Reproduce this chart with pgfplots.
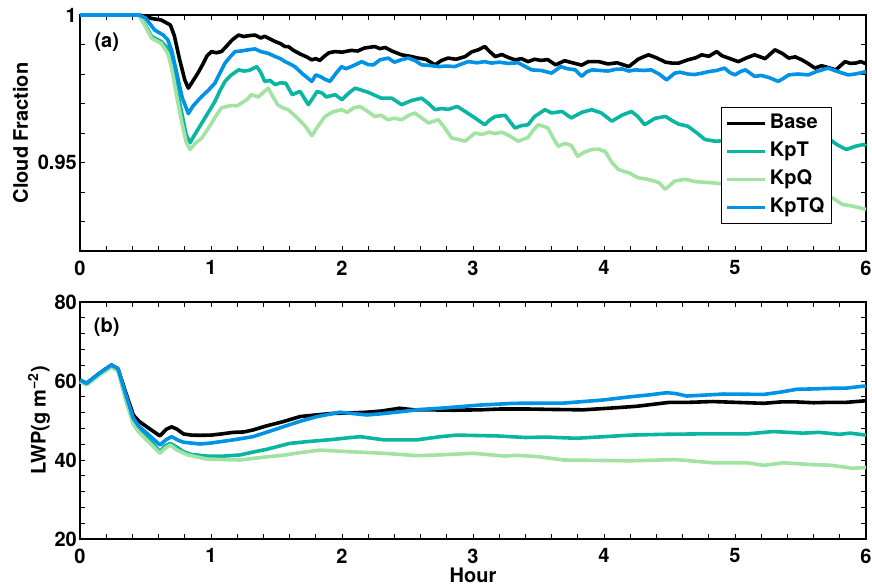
\documentclass[border=0pt]{standalone}
\usepackage{pgfplots}
\pgfplotsset{compat=1.18}
\usepackage{fontspec}
\setmainfont{TeX Gyre Heros}
\definecolor{cBase}{RGB}{0,0,0}
\definecolor{cKpT}{RGB}{10,182,162}
\definecolor{cKpQ}{RGB}{162,226,162}
\definecolor{cKpTQ}{RGB}{0,146,228}
\pgfplotsset{
  myaxis/.style={
    scale only axis, width=786pt, height=236pt,
    xmin=0, xmax=6, xtick={0,1,2,3,4,5,6}, minor x tick num=4,
    tick align=inside, major tick length=5pt, minor tick length=5pt,
    every tick/.style={black, line width=0.9pt},
    axis line style={line width=1.2pt},
    /pgf/number format/assume math mode=true,
    xticklabel style={inner sep=0pt, yshift=-9.5pt},
    yticklabel style={inner sep=0pt, xshift=-3pt},
    clip=false,
    every axis plot/.append style={line width=3.6pt, line join=round, no marks},
    legend image code/.code={\draw[#1] (0pt,0pt) -- (38pt,0pt);},
  }
}
\begin{document}
\begin{tikzpicture}[font=\fontsize{20}{24}\selectfont\bfseries]
\begin{axis}[myaxis, at={(0,0)}, anchor=north west,
  ymin=0.92, ymax=1, ytick={0.95,1}, yticklabels={0.95,1},
  minor ytick={0.92,0.93,0.94,0.96,0.97,0.98,0.99},
  ylabel={Cloud Fraction},
  ylabel style={at={(axis description cs:-0.0757,0.5)}, anchor=center, inner sep=0pt},
  legend style={at={(axis description cs:0.9567,0.610)}, anchor=north east,
    draw=black, line width=1.2pt, inner xsep=4pt, inner ysep=2pt,
    font=\fontsize{20}{24}\selectfont\bfseries,
    nodes={text height=14pt, text depth=4pt, inner ysep=5pt, inner xsep=3pt}},
  legend cell align=left,
]
\addplot[cBase] coordinates {
(0,1) (0.45,1) (0.5,0.9995) (0.55,0.9988) (0.62,0.9983) (0.69,0.9966) (0.72,0.993) (0.76,0.985) (0.80,0.978) (0.827,0.9752) (0.86,0.9775) (0.90,0.9803) (0.94,0.9835) (0.97,0.9862) (1.005,0.9876) (1.04,0.9872) (1.08,0.9876) (1.12,0.9895) (1.16,0.9915) (1.21,0.9932) (1.25,0.9927) (1.29,0.9930) (1.336,0.9932) (1.38,0.9922) (1.41,0.9928) (1.44,0.9921) (1.49,0.9910) (1.53,0.9903) (1.565,0.9893) (1.59,0.9893) (1.63,0.9880) (1.68,0.9868) (1.73,0.9858) (1.769,0.9848) (1.80,0.9852) (1.83,0.9846) (1.87,0.9862) (1.90,0.9872) (1.947,0.9876) (2.0,0.9874) (2.07,0.9880) (2.12,0.9878) (2.17,0.9888) (2.25,0.9893) (2.29,0.9886) (2.33,0.9890) (2.38,0.9878) (2.455,0.9865) (2.52,0.9860) (2.58,0.9854) (2.64,0.9850) (2.71,0.9831) (2.76,0.9846) (2.81,0.9854) (2.87,0.9850) (2.94,0.9859) (2.99,0.9875) (3.04,0.9882) (3.09,0.9893) (3.13,0.9875) (3.17,0.9859) (3.22,0.9866) (3.27,0.9856) (3.32,0.9848) (3.37,0.9852) (3.42,0.9842) (3.47,0.9850) (3.52,0.9846) (3.57,0.9849) (3.63,0.9831) (3.70,0.9845) (3.76,0.9838) (3.83,0.9830) (3.88,0.9842) (3.96,0.9842) (4.03,0.9834) (4.10,0.9838) (4.19,0.9825) (4.26,0.9850) (4.30,0.9858) (4.34,0.9865) (4.40,0.9855) (4.47,0.9840) (4.52,0.9837) (4.57,0.9837) (4.64,0.9848) (4.70,0.9855) (4.746,0.9865) (4.80,0.9860) (4.86,0.9876) (4.90,0.9862) (4.95,0.9854) (5.025,0.9842) (5.09,0.9855) (5.15,0.9865) (5.23,0.9852) (5.305,0.9882) (5.36,0.9870) (5.41,0.9854) (5.46,0.9858) (5.51,0.9848) (5.56,0.9835) (5.61,0.9820) (5.66,0.9828) (5.71,0.9822) (5.77,0.9814) (5.84,0.9842) (5.88,0.9836) (5.92,0.9837) (5.96,0.9842) (6.0,0.9835)
};
\addlegendentry{Base}
\addplot[cKpT] coordinates {
(0,1) (0.45,1) (0.50,0.9965) (0.547,0.9927) (0.62,0.9910) (0.67,0.9887) (0.70,0.984) (0.74,0.975) (0.78,0.966) (0.81,0.9595) (0.84,0.9567) (0.87,0.9590) (0.93,0.9634) (0.98,0.9670) (1.03,0.9707) (1.07,0.9745) (1.107,0.9775) (1.15,0.9795) (1.21,0.9814) (1.25,0.9810) (1.29,0.9812) (1.35,0.9825) (1.38,0.9805) (1.41,0.9775) (1.45,0.9778) (1.49,0.9764) (1.53,0.9770) (1.57,0.9769) (1.62,0.9730) (1.68,0.9741) (1.743,0.9696) (1.78,0.9720) (1.81,0.9741) (1.85,0.9735) (1.88,0.9722) (1.947,0.9730) (2.0,0.9713) (2.05,0.9735) (2.10,0.9752) (2.15,0.9745) (2.2,0.9738) (2.25,0.9728) (2.3,0.9718) (2.38,0.9718) (2.455,0.9696) (2.53,0.9710) (2.608,0.9718) (2.66,0.9700) (2.71,0.9679) (2.76,0.9683) (2.81,0.9680) (2.88,0.9690) (2.95,0.9670) (3.015,0.9651) (3.09,0.9628) (3.13,0.9645) (3.17,0.9656) (3.245,0.9660) (3.32,0.9617) (3.37,0.9625) (3.42,0.9628) (3.47,0.9656) (3.55,0.9679) (3.60,0.9668) (3.68,0.9673) (3.75,0.9651) (3.83,0.9670) (3.906,0.9679) (3.98,0.9668) (4.06,0.9640) (4.14,0.9661) (4.21,0.9673) (4.26,0.9655) (4.31,0.9628) (4.39,0.9650) (4.47,0.9656) (4.52,0.9642) (4.57,0.9630) (4.64,0.9623) (4.71,0.9600) (4.77,0.9578) (4.85,0.9572) (4.95,0.9575) (5.1,0.9580) (5.3,0.9578) (5.5,0.9580) (5.65,0.9575) (5.725,0.9578) (5.78,0.9560) (5.85,0.9544) (5.92,0.9555) (5.98,0.9561) (6.0,0.9556)
};
\addlegendentry{KpT}
\addplot[cKpQ] coordinates {
(0,1) (0.45,1) (0.50,0.9960) (0.547,0.9921) (0.62,0.9904) (0.67,0.9870) (0.70,0.982) (0.74,0.972) (0.78,0.963) (0.81,0.957) (0.84,0.9544) (0.88,0.9565) (0.93,0.9583) (0.97,0.9610) (1.005,0.9634) (1.04,0.9660) (1.08,0.9685) (1.12,0.9690) (1.157,0.9693) (1.20,0.9692) (1.234,0.9702) (1.27,0.9712) (1.31,0.9730) (1.36,0.9722) (1.40,0.9738) (1.437,0.9752) (1.47,0.9725) (1.51,0.9695) (1.55,0.9685) (1.59,0.9679) (1.65,0.9655) (1.72,0.9623) (1.77,0.9591) (1.82,0.9625) (1.87,0.9656) (1.93,0.9672) (1.997,0.9679) (2.04,0.9670) (2.09,0.9685) (2.137,0.9690) (2.19,0.9675) (2.25,0.9656) (2.30,0.9660) (2.35,0.9645) (2.40,0.9650) (2.455,0.9645) (2.51,0.9660) (2.557,0.9668) (2.61,0.9650) (2.66,0.9634) (2.735,0.9645) (2.78,0.9620) (2.837,0.9583) (2.89,0.9578) (2.94,0.9572) (3.015,0.9600) (3.07,0.9595) (3.12,0.9603) (3.17,0.9598) (3.22,0.9603) (3.28,0.9590) (3.345,0.9572) (3.42,0.9585) (3.46,0.9610) (3.5,0.9628) (3.57,0.9618) (3.61,0.9585) (3.65,0.9555) (3.70,0.9565) (3.75,0.9558) (3.8,0.9521) (3.85,0.9535) (3.906,0.9544) (3.96,0.9545) (4.01,0.9537) (4.06,0.9500) (4.11,0.9476) (4.19,0.9465) (4.26,0.9448) (4.31,0.9445) (4.36,0.9440) (4.42,0.9432) (4.466,0.9409) (4.54,0.9437) (4.62,0.9443) (4.70,0.9435) (4.80,0.9432) (4.85,0.9430) (5.0,0.9425) (5.3,0.9418) (5.6,0.9405) (5.74,0.9381) (5.82,0.9358) (5.90,0.9352) (6.0,0.9341)
};
\addlegendentry{KpQ}
\addplot[cKpTQ] coordinates {
(0,1) (0.45,1) (0.50,0.9990) (0.57,0.9949) (0.636,0.9932) (0.67,0.9916) (0.70,0.988) (0.74,0.980) (0.78,0.972) (0.827,0.9666) (0.86,0.9690) (0.90,0.9710) (0.93,0.9724) (0.98,0.9745) (1.03,0.9769) (1.07,0.9805) (1.107,0.9837) (1.15,0.9860) (1.183,0.9876) (1.23,0.9878) (1.285,0.9882) (1.336,0.9885) (1.38,0.9876) (1.437,0.9870) (1.49,0.9859) (1.53,0.9852) (1.565,0.9842) (1.59,0.9837) (1.64,0.9825) (1.70,0.9800) (1.77,0.9775) (1.80,0.9797) (1.84,0.9790) (1.87,0.9782) (1.908,0.9775) (1.95,0.9800) (1.997,0.9825) (2.03,0.9818) (2.07,0.9825) (2.11,0.9833) (2.15,0.9842) (2.20,0.9832) (2.24,0.9831) (2.29,0.9848) (2.353,0.9854) (2.40,0.9840) (2.45,0.9848) (2.506,0.9854) (2.56,0.9845) (2.608,0.9831) (2.67,0.9829) (2.735,0.9825) (2.80,0.9827) (2.86,0.9825) (2.92,0.9835) (2.965,0.9842) (3.03,0.9838) (3.09,0.9842) (3.14,0.9837) (3.20,0.9840) (3.27,0.9836) (3.345,0.9838) (3.40,0.9825) (3.448,0.9814) (3.52,0.9812) (3.60,0.9803) (3.67,0.9825) (3.72,0.9818) (3.78,0.9814) (3.83,0.9792) (3.87,0.9808) (3.91,0.9814) (3.97,0.9812) (4.03,0.9810) (4.09,0.9816) (4.14,0.9817) (4.19,0.9810) (4.24,0.9814) (4.30,0.9812) (4.36,0.9814) (4.42,0.9800) (4.478,0.9780) (4.54,0.9803) (4.58,0.9806) (4.64,0.9800) (4.69,0.9798) (4.75,0.9803) (4.80,0.9808) (4.86,0.9812) (4.92,0.9820) (4.96,0.9805) (5.0,0.9797) (5.04,0.9808) (5.08,0.9814) (5.15,0.9792) (5.20,0.9795) (5.26,0.9788) (5.33,0.9775) (5.37,0.9785) (5.41,0.9797) (5.48,0.9800) (5.56,0.9797) (5.62,0.9808) (5.71,0.9820) (5.76,0.9812) (5.82,0.9803) (5.865,0.9797) (5.92,0.9800) (6.0,0.9808)
};
\addlegendentry{KpTQ}
\node[anchor=center, inner sep=0pt] at (axis description cs:0.034,0.886) {(a)};
\end{axis}
\begin{axis}[myaxis, at={(0,-287pt)}, anchor=north west, height=237pt,
  ymin=20, ymax=80, ytick={20,40,60,80}, minor y tick num=4,
  ylabel={LWP(g m\textsuperscript{−2})},
  ylabel style={at={(axis description cs:-0.0522,0.5)}, anchor=center, inner sep=0pt},
  xlabel={Hour},
  xlabel style={at={(axis description cs:0.5,0)}, anchor=north, inner sep=0pt, yshift=-29pt},
]
\addplot[cBase] coordinates {
(0,60.25) (0.05,59.4) (0.15,62.0) (0.24,64.05) (0.29,63.1) (0.35,57.0) (0.407,51.4) (0.45,49.8) (0.51,48.4) (0.61,46.1) (0.66,47.8) (0.70,48.4) (0.74,47.8) (0.79,46.6) (0.85,46.3) (0.916,46.25) (1.0,46.3) (1.08,46.6) (1.17,47.0) (1.25,47.1) (1.32,47.6) (1.42,48.6) (1.55,49.7) (1.68,51.0) (1.8,51.4) (1.93,51.8) (2.05,51.9) (2.19,52.1) (2.3,52.4) (2.44,53.1) (2.55,52.7) (2.67,52.7) (2.85,52.6) (3.05,52.7) (3.2,52.9) (3.435,52.9) (3.6,52.8) (3.84,52.7) (4.1,53.25) (4.25,53.6) (4.35,54.0) (4.50,54.6) (4.65,54.6) (4.83,54.8) (5.0,54.6) (5.22,54.35) (5.35,54.7) (5.47,54.7) (5.6,54.5) (5.725,54.6) (5.85,54.6) (6.0,55.0)
};
\addplot[cKpT] coordinates {
(0,60.0) (0.05,59.2) (0.15,61.8) (0.24,63.8) (0.29,62.9) (0.35,55.5) (0.407,49.5) (0.45,47.8) (0.51,45.9) (0.61,42.1) (0.65,43.6) (0.69,44.2) (0.74,43.2) (0.79,42.1) (0.85,41.4) (0.967,41.0) (1.1,41.0) (1.22,41.27) (1.32,42.0) (1.425,42.7) (1.6,44.2) (1.75,44.7) (1.93,45.2) (2.04,45.6) (2.14,45.9) (2.32,45.1) (2.57,45.1) (2.75,45.9) (2.875,46.3) (3.18,46.1) (3.4,45.7) (3.56,45.8) (3.79,45.5) (4.0,45.9) (4.2,46.3) (4.45,46.5) (4.71,46.6) (5.09,46.6) (5.29,47.2) (5.52,46.8) (5.64,47.0) (5.8,46.5) (5.88,46.8) (6.0,46.3)
};
\addplot[cKpQ] coordinates {
(0,59.8) (0.05,59.0) (0.15,61.5) (0.24,63.5) (0.29,62.5) (0.35,55.0) (0.407,49.0) (0.45,47.0) (0.51,45.0) (0.61,41.7) (0.65,43.0) (0.69,43.8) (0.74,42.5) (0.82,41.3) (0.967,40.25) (1.1,40.1) (1.22,40.0) (1.425,40.8) (1.55,41.2) (1.68,41.85) (1.83,42.5) (2.06,42.1) (2.32,41.7) (2.57,41.1) (2.75,41.3) (3.0,41.7) (3.24,41.0) (3.34,41.2) (3.51,40.8) (3.69,40.0) (4.2,39.8) (4.55,40.1) (4.83,39.3) (5.09,39.3) (5.22,38.65) (5.37,39.3) (5.6,38.8) (5.725,38.7) (5.9,37.9) (6.0,38.1)
};
\addplot[cKpTQ] coordinates {
(0,60.25) (0.05,59.4) (0.15,62.0) (0.24,64.05) (0.29,63.1) (0.35,56.5) (0.407,50.55) (0.45,48.5) (0.51,46.8) (0.61,43.8) (0.66,45.2) (0.70,45.9) (0.75,45.0) (0.79,44.5) (0.916,44.05) (1.0,44.3) (1.17,45.1) (1.32,45.9) (1.45,47.3) (1.55,48.4) (1.68,49.8) (1.807,50.97) (1.985,52.1) (2.19,51.4) (2.3,51.7) (2.44,52.2) (2.6,52.8) (2.75,53.1) (3.05,53.9) (3.31,54.35) (3.69,54.4) (3.995,55.2) (4.2,56.0) (4.35,56.5) (4.48,57.04) (4.55,56.8) (4.63,56.2) (4.75,56.4) (4.91,56.7) (5.22,56.6) (5.35,57.2) (5.47,57.9) (5.6,58.0) (5.725,58.15) (5.85,58.2) (5.98,58.7) (6.0,58.7)
};
\node[anchor=center, inner sep=0pt] at (axis description cs:0.034,0.895) {(b)};
\end{axis}
\pgfresetboundingbox
\path[use as bounding box] (-80pt,15pt) rectangle (792pt,-571pt);
\end{tikzpicture}
\end{document}
